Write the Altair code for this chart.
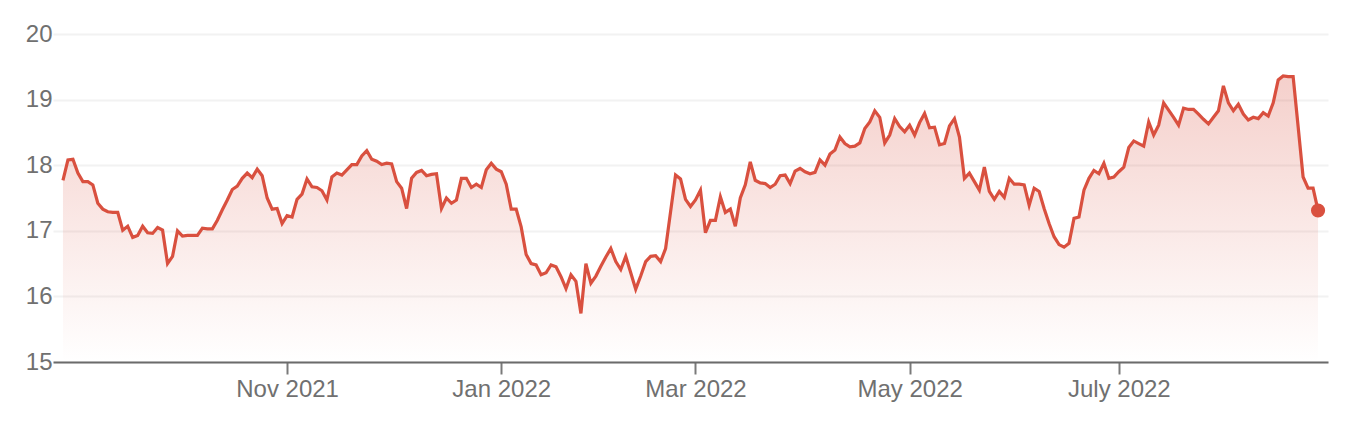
import altair as alt
import pandas as pd

# Daily closing values
VALUES = [
    17.77, 18.08, 18.09, 17.88, 17.75, 17.75, 17.70, 17.42, 17.33, 17.29,
    17.28, 17.28, 17.01, 17.07, 16.90, 16.93, 17.07, 16.97, 16.96, 17.05,
    17.01, 16.50, 16.61, 17.00, 16.92, 16.93, 16.93, 16.93, 17.04, 17.03,
    17.03, 17.16, 17.32, 17.47, 17.63, 17.68, 17.80, 17.88, 17.81, 17.94,
    17.84, 17.50, 17.33, 17.34, 17.11, 17.23, 17.21, 17.48, 17.56, 17.79,
    17.67, 17.66, 17.61, 17.47, 17.82, 17.88, 17.85, 17.93, 18.01, 18.01,
    18.14, 18.22, 18.09, 18.06, 18.01, 18.03, 18.02, 17.75, 17.65, 17.34,
    17.80, 17.89, 17.92, 17.84, 17.86, 17.87, 17.34, 17.50, 17.42, 17.47,
    17.80, 17.80, 17.66, 17.71, 17.66, 17.93, 18.03, 17.94, 17.90, 17.71,
    17.33, 17.33, 17.06, 16.64, 16.50, 16.48, 16.33, 16.36, 16.48, 16.45,
    16.30, 16.12, 16.33, 16.23, 15.74, 16.50, 16.20, 16.31, 16.46, 16.60,
    16.73, 16.53, 16.41, 16.61, 16.36, 16.11, 16.31, 16.53, 16.61, 16.62,
    16.53, 16.73, 17.29, 17.85, 17.79, 17.48, 17.37, 17.47, 17.62, 16.97,
    17.16, 17.16, 17.52, 17.28, 17.33, 17.07, 17.50, 17.70, 18.05, 17.77,
    17.73, 17.72, 17.66, 17.71, 17.84, 17.85, 17.72, 17.91, 17.95, 17.90,
    17.87, 17.89, 18.08, 18.00, 18.17, 18.23, 18.43, 18.33, 18.28, 18.29,
    18.34, 18.56, 18.66, 18.83, 18.73, 18.34, 18.46, 18.71, 18.59, 18.51,
    18.61, 18.46, 18.65, 18.79, 18.57, 18.58, 18.31, 18.33, 18.60, 18.71,
    18.43, 17.80, 17.88, 17.75, 17.62, 17.97, 17.60, 17.48, 17.60, 17.51,
    17.80, 17.71, 17.71, 17.70, 17.39, 17.65, 17.60, 17.34, 17.11, 16.91,
    16.79, 16.75, 16.81, 17.19, 17.21, 17.62, 17.80, 17.92, 17.87, 18.03,
    17.80, 17.82, 17.90, 17.97, 18.27, 18.37, 18.33, 18.29, 18.66, 18.46,
    18.61, 18.95, 18.84, 18.73, 18.61, 18.87, 18.85, 18.85, 18.78, 18.70,
    18.63, 18.73, 18.83, 19.21, 18.95, 18.83, 18.93, 18.78, 18.69, 18.73,
    18.71, 18.80, 18.75, 18.95, 19.30, 19.36, 19.35, 19.35, 18.59, 17.82,
    17.65, 17.65, 17.31,
]

# Trading calendar (axis period and first data day)
CAL_START = "2021-08-25"
CAL_END = "2022-08-31"
START_DATE = "2021-08-27"
HOLIDAYS = [
    "2021-09-06", "2021-11-25", "2021-12-24", "2022-01-17", "2022-02-21",
    "2022-04-15", "2022-05-30", "2022-06-20", "2022-07-04",
]

# Axis ticks (first trading day of the month) and labels
X_TICK_DATES = ["2021-11-01", "2022-01-03", "2022-03-01", "2022-05-02", "2022-07-01"]
X_TICK_LABELS = ["Nov 2021", "Jan 2022", "Mar 2022", "May 2022", "July 2022"]
Y_TICKS = [15, 16, 17, 18, 19, 20]

calendar = pd.bdate_range(CAL_START, CAL_END, freq="C", holidays=HOLIDAYS).strftime("%Y-%m-%d").tolist()
dates = pd.bdate_range(START_DATE, periods=len(VALUES), freq="C", holidays=HOLIDAYS)
df = pd.DataFrame({"date": dates.strftime("%Y-%m-%d"), "price": VALUES})
last = df.iloc[[-1]]

RED = "#d9503f"
GRAY_TEXT = "#707070"
FONT = "Liberation Sans"

label_expr = "''"
for d, lab in reversed(list(zip(X_TICK_DATES, X_TICK_LABELS))):
    label_expr = f"datum.value == '{d}' ? '{lab}' : ({label_expr})"

x_enc = alt.X(
    "date:O",
    sort=None,
    scale=alt.Scale(type="point", padding=0, domain=calendar),
    axis=alt.Axis(
        values=X_TICK_DATES,
        labelExpr=label_expr,
        labelAngle=0,
        labelAlign="center",
        labelBaseline="top",
        title=None,
        grid=False,
        domainColor="#6b6b6b",
        domainWidth=2,
        tickColor="#7a7a7a",
        tickWidth=2,
        tickSize=12,
        labelPadding=3,
        labelFontSize=24,
        labelColor=GRAY_TEXT,
        labelFont=FONT,
    ),
)

y_enc = alt.Y(
    "price:Q",
    scale=alt.Scale(domain=[15, 20], zero=False, nice=False),
    axis=alt.Axis(
        values=Y_TICKS,
        title=None,
        domain=False,
        ticks=False,
        grid=True,
        gridColor="#f2f2f2",
        gridWidth=2,
        labelPadding=1,
        labelFontSize=24,
        labelColor=GRAY_TEXT,
        labelFont=FONT,
    ),
)

area = alt.Chart(df).mark_area(
    color=alt.Gradient(
        gradient="linear",
        stops=[
            alt.GradientStop(color="rgba(217,80,63,0.27)", offset=0),
            alt.GradientStop(color="rgba(217,80,63,0.0)", offset=1),
        ],
        x1=1, x2=1, y1=0, y2=1,
    )
).encode(x=x_enc, y=y_enc, y2=alt.datum(15))

line = alt.Chart(df).mark_line(color=RED, strokeWidth=3.2).encode(x=x_enc, y=y_enc)

dot = alt.Chart(last).mark_circle(color=RED, size=200, opacity=1).encode(x=x_enc, y=y_enc)

chart = alt.layer(area, line, dot).properties(
    width=1275,
    height=328,
    padding={"left": 45, "top": 26, "right": 22, "bottom": 56},
    autosize=alt.AutoSizeParams(type="none"),
).configure_view(strokeWidth=0)

chart.save("out.html", embed_options={"renderer": "svg", "actions": False})
